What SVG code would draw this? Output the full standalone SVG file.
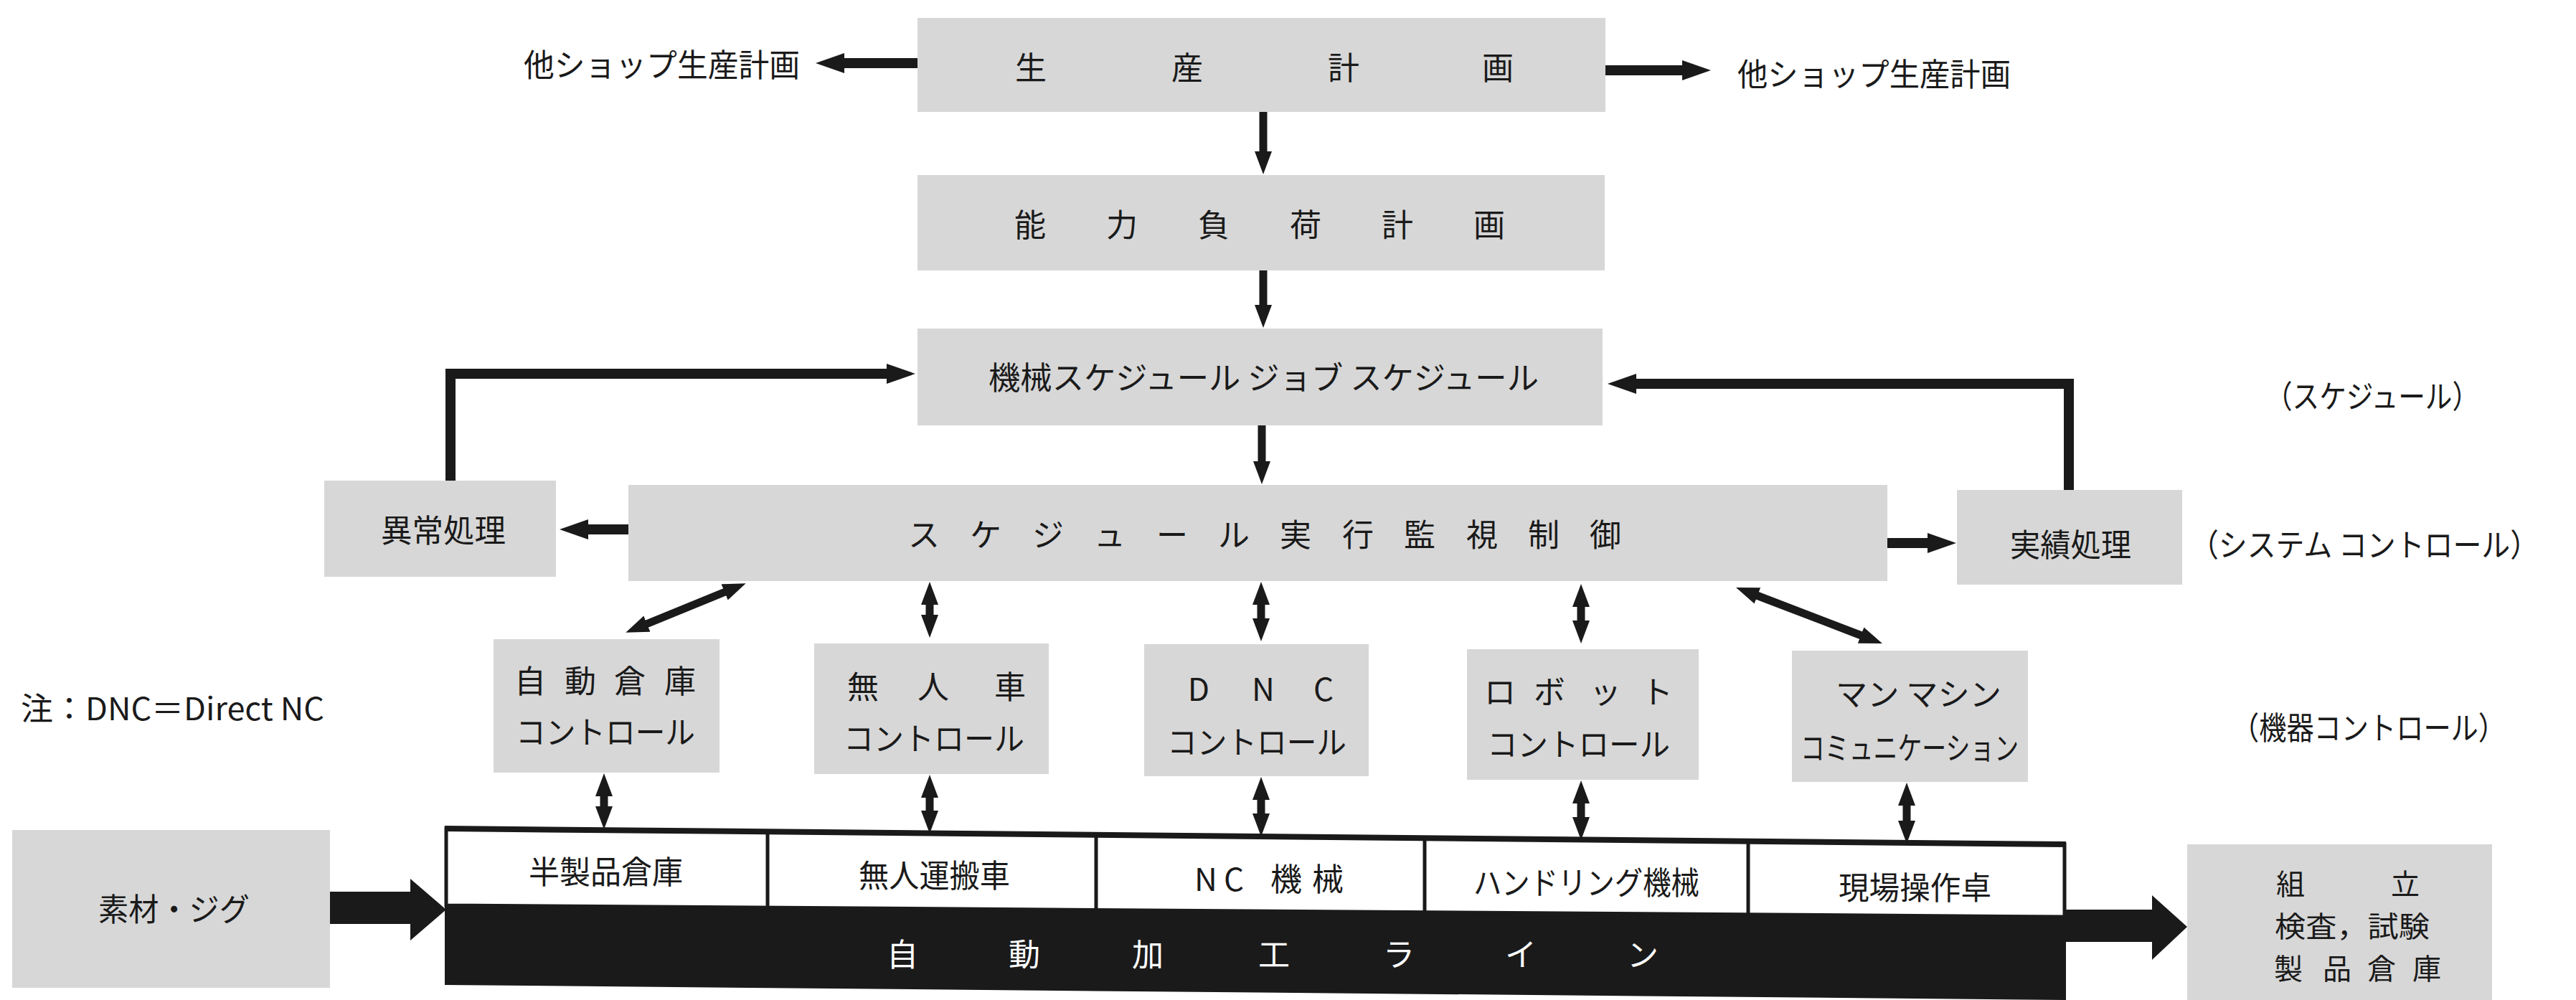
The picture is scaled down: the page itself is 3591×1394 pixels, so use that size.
<svg xmlns="http://www.w3.org/2000/svg" width="3591" height="1394" viewBox="0 0 3591 1394">
<style>
.bg{fill:#ffffff}
.box{fill:#d7d7d7}
.t{font-family:"Noto Sans CJK JP","Noto Sans",sans-serif;font-size:44px;fill:#1a1a1a;dominant-baseline:central}
.k{font-size:40px}
.c{text-anchor:middle}
.wt{fill:#ffffff}
.ln{stroke:#1a1a1a;fill:none;stroke-linecap:butt;stroke-linejoin:miter}
.s{stroke-width:11}
.m{stroke-width:14}
.blk{fill:#1a1a1a}
.cell{fill:#ffffff;stroke:#1a1a1a;stroke-width:5}
</style>
<defs>
<marker id="ah" viewBox="0 0 32 24" refX="1" refY="12" markerWidth="32" markerHeight="24" markerUnits="userSpaceOnUse" orient="auto-start-reverse"><path d="M0,0 L32,12 L0,24 z" fill="#1a1a1a"/></marker>
<marker id="ahL" viewBox="0 0 40 28" refX="1" refY="14" markerWidth="40" markerHeight="28" markerUnits="userSpaceOnUse" orient="auto-start-reverse"><path d="M0,0 L40,14 L0,28 z" fill="#1a1a1a"/></marker>
</defs>
<rect class="bg" x="0" y="0" width="3591" height="1394"/>

<g id="n-left-other">
<text class="t" x="730" y="88" textLength="385" lengthAdjust="spacingAndGlyphs">他ショップ生産計画</text>
</g>
<g id="n-right-other">
<text class="t" x="2422" y="101" textLength="381" lengthAdjust="spacingAndGlyphs">他ショップ生産計画</text>
</g>
<g id="n-seisan">
<rect class="box" x="1279" y="25" width="959" height="131"/>
<text class="t c" x="1437 1655 1873 2088" y="92">生産計画</text>
</g>
<g id="n-nouryoku">
<rect class="box" x="1279" y="244" width="958" height="133"/>
<text class="t c" x="1436 1564 1692 1820 1948 2076" y="311">能力負荷計画</text>
</g>
<g id="n-schedule">
<rect class="box" x="1279" y="458" width="955" height="135"/>
<text class="t" x="1378" y="524" textLength="767" lengthAdjust="spacingAndGlyphs">機械スケジュール ジョブ スケジュール</text>
</g>
<g id="n-jikkou">
<rect class="box" x="876" y="676" width="1755" height="134"/>
<text class="t c" x="1288 1374 1461 1547 1634 1720 1806 1893 1979 2066 2152 2238" y="743">スケジュール実行監視制御</text>
</g>
<g id="n-ijou">
<rect class="box" x="452" y="670" width="323" height="134"/>
<text class="t" x="531" y="737" textLength="174" lengthAdjust="spacingAndGlyphs">異常処理</text>
</g>
<g id="n-jisseki">
<rect class="box" x="2728" y="683" width="314" height="132"/>
<text class="t" x="2802" y="757" textLength="169" lengthAdjust="spacingAndGlyphs">実績処理</text>
</g>
<g id="n-c-souko">
<rect class="box" x="688" y="891" width="315" height="186"/>
<text class="t c" x="739 809 878 948" y="947">自動倉庫</text>
<text class="t" x="719" y="1018" textLength="250" lengthAdjust="spacingAndGlyphs">コントロール</text>
</g>
<g id="n-c-mujin">
<rect class="box" x="1135" y="897" width="327" height="182"/>
<text class="t c" x="1203 1301 1408" y="955">無人車</text>
<text class="t" x="1176" y="1027" textLength="252" lengthAdjust="spacingAndGlyphs">コントロール</text>
</g>
<g id="n-c-dnc">
<rect class="box" x="1595" y="898" width="313" height="184"/>
<text class="t c" x="1671 1761 1845" y="958">DNC</text>
<text class="t" x="1627" y="1032" textLength="250" lengthAdjust="spacingAndGlyphs">コントロール</text>
</g>
<g id="n-c-robot">
<rect class="box" x="2045" y="905" width="323" height="182"/>
<text class="t c" x="2091 2160 2238 2310" y="962">ロボット</text>
<text class="t" x="2073" y="1035" textLength="255" lengthAdjust="spacingAndGlyphs">コントロール</text>
</g>
<g id="n-c-manmachine">
<rect class="box" x="2498" y="907" width="329" height="183"/>
<text class="t" x="2559" y="965" textLength="231" lengthAdjust="spacingAndGlyphs">マン マシン</text>
<text class="t" x="2510" y="1040" textLength="304" lengthAdjust="spacingAndGlyphs">コミュニケーション</text>
</g>

<g id="n-line">
<polygon class="blk" points="620,1262 2880,1278 2880,1394 620,1373"/>
<polygon class="cell" points="622,1155 2878,1177 2878,1278 622,1262"/>
<line class="ln" x1="620" y1="1155" x2="2880" y2="1177" stroke-width="8"/>
<line class="ln" x1="1070" y1="1159" x2="1070" y2="1265" stroke-width="5"/>
<line class="ln" x1="1528" y1="1164" x2="1528" y2="1268" stroke-width="5"/>
<line class="ln" x1="1986" y1="1168" x2="1986" y2="1272" stroke-width="5"/>
<line class="ln" x1="2437" y1="1173" x2="2437" y2="1275" stroke-width="5"/>
<text class="t" x="737" y="1213" textLength="215" lengthAdjust="spacingAndGlyphs">半製品倉庫</text>
<text class="t" x="1197" y="1218" textLength="211" lengthAdjust="spacingAndGlyphs">無人運搬車</text>
<text class="t c" x="1681 1720 1793 1851" y="1223">NC機械</text>
<text class="t" x="2054" y="1228" textLength="315" lengthAdjust="spacingAndGlyphs">ハンドリング機械</text>
<text class="t" x="2563" y="1235" textLength="213" lengthAdjust="spacingAndGlyphs">現場操作卓</text>
<text class="t c wt" x="1258 1428 1600 1776 1950 2120 2290" y="1328">自動加工ライン</text>
</g>

<g id="n-sozai">
<rect class="box" x="17" y="1157" width="443" height="220"/>
<text class="t" x="137" y="1265" textLength="211" lengthAdjust="spacingAndGlyphs">素材・ジグ</text>
</g>
<g id="n-kumitate">
<rect class="box" x="3049" y="1177" width="425" height="217"/>
<text class="t k c" x="3193 3353" y="1230">組立</text>
<text class="t k" x="3171" y="1289" textLength="216" lengthAdjust="spacingAndGlyphs">検査，試験</text>
<text class="t k c" x="3190 3258 3320 3383" y="1348">製品倉庫</text>
</g>

<g id="labels">
<text class="t" x="3158" y="550" textLength="298" lengthAdjust="spacingAndGlyphs">（スケジュール）</text>
<text class="t" x="3053" y="757" textLength="486" lengthAdjust="spacingAndGlyphs">（システム コントロール）</text>
<text class="t" x="3111" y="1012" textLength="382" lengthAdjust="spacingAndGlyphs">（機器コントロール）</text>
<text class="t" x="29" y="985" textLength="423" lengthAdjust="spacingAndGlyphs">注：DNC＝Direct NC</text>
</g>

<g id="connectors">
<line class="ln m" x1="1279" y1="88" x2="1176" y2="88" marker-end="url(#ahL)"/>
<line class="ln m" x1="2238" y1="98" x2="2346" y2="98" marker-end="url(#ahL)"/>
<line class="ln s" x1="1761" y1="156" x2="1761" y2="212" marker-end="url(#ah)"/>
<line class="ln s" x1="1761" y1="377" x2="1761" y2="426" marker-end="url(#ah)"/>
<line class="ln s" x1="1759" y1="593" x2="1759" y2="644" marker-end="url(#ah)"/>
<path class="ln m" d="M628,670 V521 H1237" marker-end="url(#ahL)"/>
<path class="ln m" d="M2884,683 V535 H2280" marker-end="url(#ahL)"/>
<line class="ln m" x1="876" y1="738" x2="819" y2="738" marker-end="url(#ahL)"/>
<line class="ln m" x1="2631" y1="757" x2="2688" y2="757" marker-end="url(#ahL)"/>
<line class="ln s" x1="1011" y1="825" x2="901" y2="870" marker-start="url(#ah)" marker-end="url(#ah)"/>
<line class="ln s" x1="1296" y1="842" x2="1296" y2="858" marker-start="url(#ah)" marker-end="url(#ah)"/>
<line class="ln s" x1="1758" y1="842" x2="1758" y2="863" marker-start="url(#ah)" marker-end="url(#ah)"/>
<line class="ln s" x1="2204" y1="845" x2="2204" y2="866" marker-start="url(#ah)" marker-end="url(#ah)"/>
<line class="ln s" x1="2449" y1="830" x2="2595" y2="886" marker-start="url(#ah)" marker-end="url(#ah)"/>
<line class="ln s" x1="842" y1="1109" x2="842" y2="1125" marker-start="url(#ah)" marker-end="url(#ah)"/>
<line class="ln s" x1="1296" y1="1111" x2="1296" y2="1131" marker-start="url(#ah)" marker-end="url(#ah)"/>
<line class="ln s" x1="1758" y1="1114" x2="1758" y2="1135" marker-start="url(#ah)" marker-end="url(#ah)"/>
<line class="ln s" x1="2204" y1="1119" x2="2204" y2="1140" marker-start="url(#ah)" marker-end="url(#ah)"/>
<line class="ln s" x1="2658" y1="1122" x2="2658" y2="1145" marker-start="url(#ah)" marker-end="url(#ah)"/>
<polygon class="blk" points="460,1243 572,1243 572,1225 622,1268 572,1311 572,1288 460,1288"/>
<polygon class="blk" points="2878,1268 3000,1268 3000,1248 3049,1292 3000,1338 3000,1313 2878,1313"/>
</g>
</svg>
